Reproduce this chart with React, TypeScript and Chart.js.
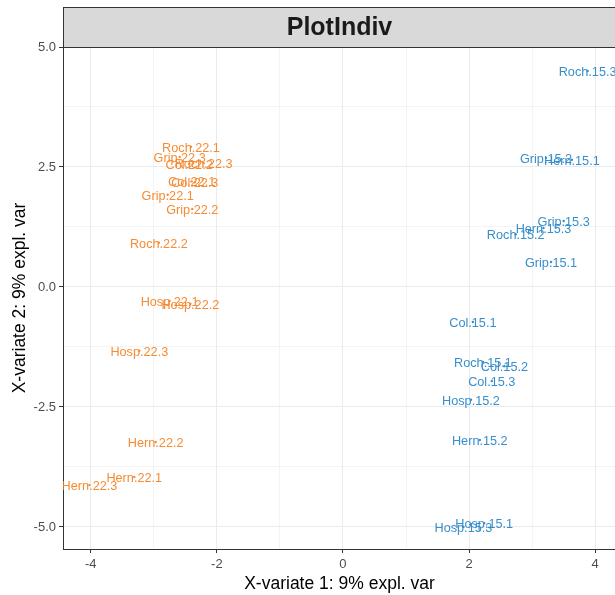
import React, { useEffect, useRef } from "react";
import { Chart, registerables } from "chart.js";

Chart.register(...registerables);

const orangeNames = ["Roch.22.1", "Roch.22.2", "Roch.22.3", "Grip.22.1", "Grip.22.2", "Grip.22.3", "Col.22.1", "Col.22.2", "Col.22.3", "Hosp.22.1", "Hosp.22.2", "Hosp.22.3", "Hern.22.1", "Hern.22.2", "Hern.22.3"];
const orangeX = [-2.41, -2.92, -2.21, -2.78, -2.39, -2.59, -2.40, -2.44, -2.35, -2.75, -2.42, -3.23, -3.31, -2.97, -4.02];
const orangeY = [2.92, 0.92, 2.58, 1.92, 1.625, 2.71, 2.2, 2.56, 2.18, -0.29, -0.35, -1.33, -3.96, -3.23, -4.125];

const blueNames = ["Roch.15.1", "Roch.15.2", "Roch.15.3", "Grip.15.1", "Grip.15.2", "Grip.15.3", "Col.15.1", "Col.15.2", "Col.15.3", "Hosp.15.1", "Hosp.15.2", "Hosp.15.3", "Hern.15.1", "Hern.15.2", "Hern.15.3"];
const blueX = [2.22, 2.74, 3.88, 3.30, 3.22, 3.5, 2.06, 2.56, 2.36, 2.24, 2.03, 1.91, 3.63, 2.17, 3.18];
const blueY = [-1.56, 1.10, 4.5, 0.52, 2.69, 1.375, -0.73, -1.65, -1.96, -4.92, -2.35, -5.0, 2.65, -3.19, 1.23];

const xTicks = [-4, -3, -2, -1, 0, 1, 2, 3, 4];
const yTicks = [-5, -3.75, -2.5, -1.25, 0, 1.25, 2.5, 3.75, 5];

const ORANGE = "#F68B33";
const BLUE = "#388ECC";
const FONT = "'Liberation Sans', Arial, sans-serif";

const isMajorX = (v: number) => Math.abs(v / 2 - Math.round(v / 2)) < 1e-6;
const isMajorY = (v: number) => Math.abs(v / 2.5 - Math.round(v / 2.5)) < 1e-6;

const labelPlugin = {
  id: "labels",
  afterDatasetsDraw(chart: any) {
    const ctx = chart.ctx;
    const area = chart.chartArea;
    ctx.save();
    ctx.beginPath();
    ctx.rect(area.left, area.top, area.right - area.left, area.bottom - area.top);
    ctx.clip();
    ctx.font = `12.7px ${FONT}`;
    ctx.textAlign = "center";
    ctx.textBaseline = "middle";
    chart.data.datasets.forEach((ds: any, i: number) => {
      const meta = chart.getDatasetMeta(i);
      ctx.fillStyle = ds.borderColor;
      meta.data.forEach((pt: any, j: number) => {
        ctx.fillText(ds.names[j], pt.x, pt.y + 1.5);
      });
    });
    ctx.restore();
  },
  afterDraw(chart: any) {
    const ctx = chart.ctx;
    const area = chart.chartArea;
    ctx.save();
    // strip
    ctx.fillStyle = "#D9D9D9";
    ctx.fillRect(area.left, 7, area.right - area.left + 10, area.top - 7);
    ctx.strokeStyle = "#333333";
    ctx.lineWidth = 1;
    ctx.strokeRect(area.left + 0.5, 7.5, area.right - area.left + 10, area.top - 7);
    ctx.fillStyle = "#1A1A1A";
    ctx.font = `bold 25px ${FONT}`;
    ctx.textAlign = "center";
    ctx.textBaseline = "middle";
    ctx.fillText("PlotIndiv", (area.left + area.right) / 2, 28);
    // axis titles
    ctx.fillStyle = "#000000";
    ctx.font = `17.5px ${FONT}`;
    ctx.fillText("X-variate 1: 9% expl. var", (area.left + area.right) / 2, 584);
    ctx.translate(20, (area.top + area.bottom) / 2);
    ctx.rotate(-Math.PI / 2);
    ctx.fillText("X-variate 2: 9% expl. var", 0, 0);
    ctx.restore();
  },
};

export default function App() {
  const ref = useRef<HTMLCanvasElement>(null);
  useEffect(() => {
    if (!ref.current) return;
    const chart = new Chart(ref.current, {
      type: "scatter",
      data: {
        datasets: [
          {
            label: "22",
            names: orangeNames,
            data: orangeX.map((x, i) => ({ x, y: orangeY[i] })),
            borderColor: ORANGE,
            backgroundColor: ORANGE,
            pointRadius: 1.2,
            pointBorderWidth: 0,
          } as any,
          {
            label: "15",
            names: blueNames,
            data: blueX.map((x, i) => ({ x, y: blueY[i] })),
            borderColor: BLUE,
            backgroundColor: BLUE,
            pointRadius: 1.2,
            pointBorderWidth: 0,
          } as any,
        ],
      },
      options: {
        animation: false,
        responsive: false,
        devicePixelRatio: 1,
        layout: { padding: { top: 47, right: 4, left: 0, bottom: 0 } },
        plugins: { legend: { display: false }, tooltip: { enabled: false } },
        scales: {
          x: {
            type: "linear",
            min: -4.44,
            max: 4.33,
            afterBuildTicks: (s: any) => {
              s.ticks = xTicks.map((v) => ({ value: v }));
            },
            afterFit: (s: any) => {
              s.height = 46;
            },
            ticks: {
              autoSkip: false,
              maxRotation: 0,
              padding: 4,
              color: "#4D4D4D",
              font: { family: FONT, size: 13 },
              callback: (v: any) => (isMajorX(Number(v)) ? String(v) : ""),
            },
            grid: {
              color: "#EBEBEB",
              lineWidth: (c: any) => (c.tick && isMajorX(c.tick.value) ? 1 : 0.55),
              tickColor: (c: any) => (c.tick && isMajorX(c.tick.value) ? "#333333" : "rgba(0,0,0,0)"),
              tickWidth: 1,
              tickLength: 4,
              drawTicks: true,
            },
            border: { display: true, color: "#333333", width: 1 },
          },
          y: {
            type: "linear",
            min: -5.46,
            max: 5.0,
            afterBuildTicks: (s: any) => {
              s.ticks = yTicks.map((v) => ({ value: v }));
            },
            afterFit: (s: any) => {
              s.width = 63;
            },
            ticks: {
              autoSkip: false,
              padding: 3,
              color: "#4D4D4D",
              font: { family: FONT, size: 13 },
              callback: (v: any) => (isMajorY(Number(v)) ? Number(v).toFixed(1) : ""),
            },
            grid: {
              color: "#EBEBEB",
              lineWidth: (c: any) => (c.tick && isMajorY(c.tick.value) ? 1 : 0.55),
              tickColor: (c: any) => (c.tick && isMajorY(c.tick.value) ? "#333333" : "rgba(0,0,0,0)"),
              tickWidth: 1,
              tickLength: 4,
              drawTicks: true,
            },
            border: { display: true, color: "#333333", width: 1 },
          },
        },
      } as any,
      plugins: [labelPlugin],
    });
    return () => chart.destroy();
  }, []);
  return (
    <div style={{ position: "fixed", left: 0, top: 0, width: 615, height: 595, overflow: "hidden", background: "#ffffff" }}>
      <canvas ref={ref} width={620} height={595} style={{ width: 620, height: 595, display: "block" }} />
    </div>
  );
}
